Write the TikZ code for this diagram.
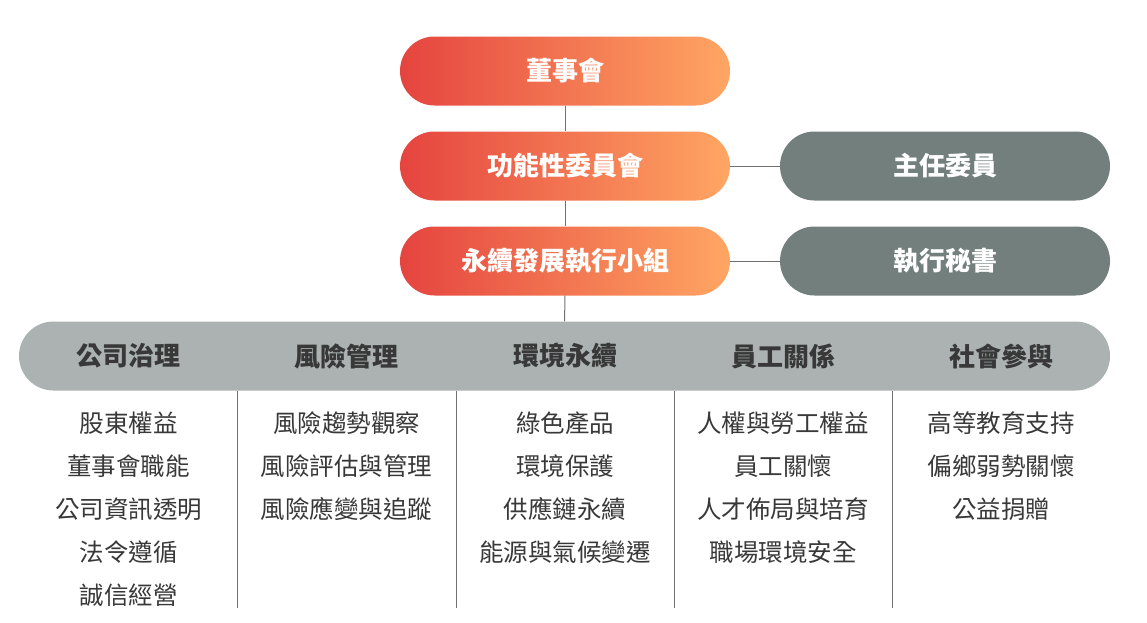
\documentclass[tikz,border=0pt]{standalone}
\usepackage{fontspec}
\newfontfamily\cjk{Noto Sans CJK TC}
\usetikzlibrary{positioning}
\definecolor{boxred}{HTML}{E5443F}
\definecolor{boxorange}{HTML}{FFA663}
\definecolor{boxgray}{HTML}{727F7D}
\definecolor{bandgray}{HTML}{ABB2B1}
\definecolor{linegray}{HTML}{707070}
\definecolor{txtdark}{HTML}{383838}
\tikzset{
  pill/.style={rounded corners=34.5pt, minimum width=330pt, minimum height=69pt, inner sep=0pt,
    text=white, font=\cjk\bfseries\fontsize{26}{30}\selectfont},
  redbox/.style={pill, left color=boxred, right color=boxorange},
  graybox/.style={pill, fill=boxgray},
  head/.style={text=txtdark, font=\cjk\bfseries\fontsize{26}{30}\selectfont},
  item/.style={text=txtdark, font=\cjk\fontsize{24.5}{28}\selectfont},
  link/.style={draw=linegray, line width=1pt}
}
\begin{document}
\begin{tikzpicture}[x=1pt,y=-1pt]
\useasboundingbox (0,0) rectangle (1147,622);
% left column
\node[redbox] (board) at (565,71) {董事會};
\node[redbox] (committee) at (565,166) {功能性委員會};
\node[redbox] (group) at (565,261) {永續發展執行小組};
% right column
\node[graybox] (chief) at (945,166) {主任委員};
\node[graybox] (secretary) at (945,261) {執行秘書};
\node[rounded corners=34.5pt, minimum width=1091pt, minimum height=69pt, fill=bandgray] (band) at (564.5,356) {};
\draw[link] (board) -- (committee);
\draw[link] (committee) -- (group);
\draw[link] (group) -- (band);
\draw[link] (committee) -- (chief);
\draw[link] (group) -- (secretary);
% dividers
\foreach \x [count=\k] in {237,456,674,892}{
  \coordinate (d\k) at (\x,608);
  \draw[link] (band.south -| d\k) -- (d\k);
}
% topics and items
\foreach \x/\title/\items [count=\j] in {
  128.5/公司治理/{股東權益,董事會職能,公司資訊透明,法令遵循,誠信經營},
  346.5/風險管理/{風險趨勢觀察,風險評估與管理,風險應變與追蹤},
  565/環境永續/{綠色產品,環境保護,供應鏈永續,能源與氣候變遷},
  783/員工關係/{人權與勞工權益,員工關懷,人才佈局與培育,職場環境安全},
  1001/社會參與/{高等教育支持,偏鄉弱勢關懷,公益捐贈}}{
  \node[head] (h\j) at (\x,356) {\title};
  \foreach \it [count=\i] in \items
    \node[item] (c\j-\i) at (\x,380+43*\i) {\it};
}
\end{tikzpicture}
\end{document}
